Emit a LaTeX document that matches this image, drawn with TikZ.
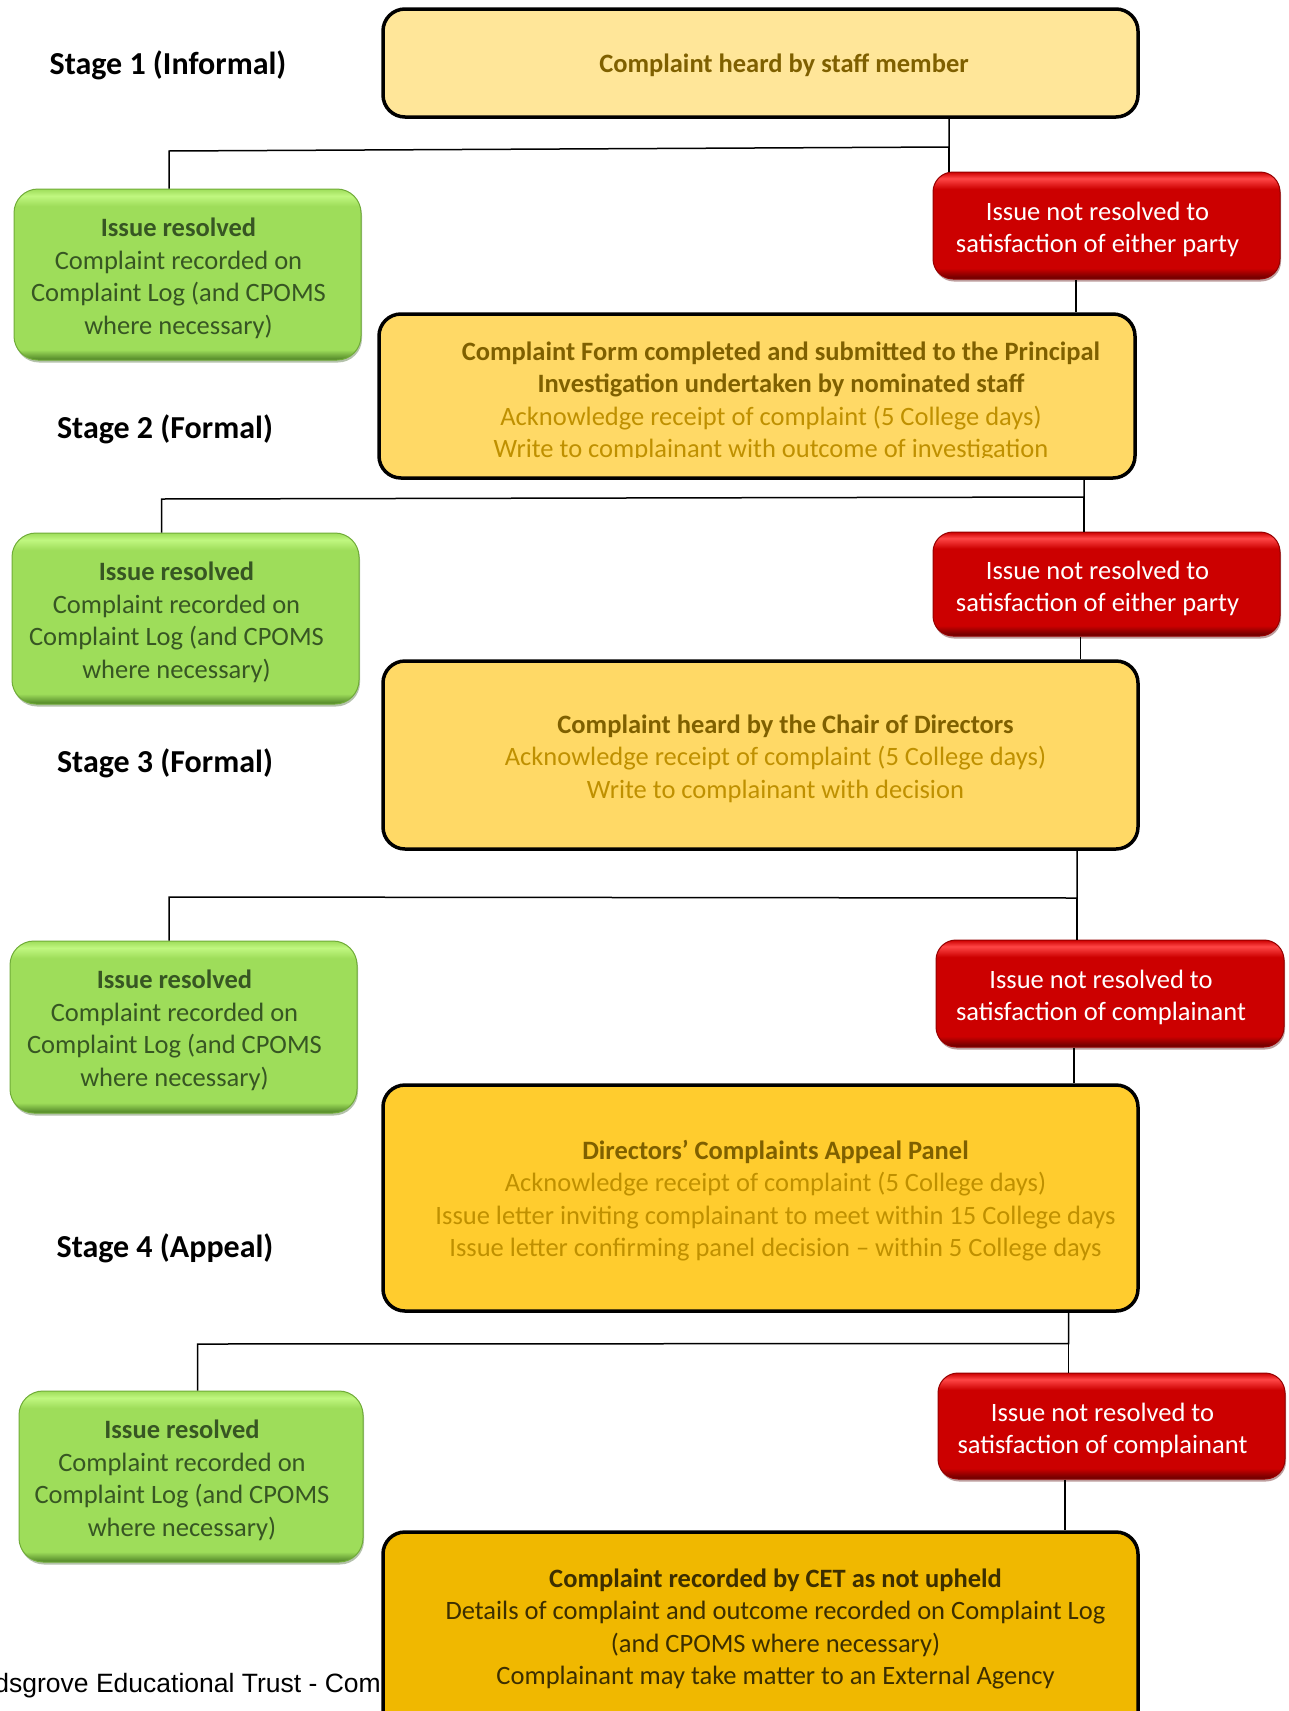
\documentclass[tikz,border=0pt]{standalone}
\usepackage{fontspec}
\usetikzlibrary{shadows}
\setmainfont{Carlito}
\newfontfamily\footfont{Liberation Sans}
\definecolor{yA}{RGB}{255,230,153}
\definecolor{yB}{RGB}{255,217,102}
\definecolor{yC}{RGB}{255,204,46}
\definecolor{yD}{RGB}{240,184,0}
\definecolor{ydark}{RGB}{127,96,0}
\definecolor{ylight}{RGB}{191,144,0}
\definecolor{ydeep}{RGB}{60,46,0}
\definecolor{gbase}{RGB}{158,221,90}
\definecolor{glt}{RGB}{192,247,128}
\definecolor{gdk}{RGB}{78,130,38}
\definecolor{gedge}{RGB}{112,172,56}
\definecolor{gtext}{RGB}{55,86,35}
\definecolor{gshadow}{RGB}{90,120,70}
\definecolor{rbase}{RGB}{204,0,0}
\definecolor{rlt}{RGB}{255,70,70}
\definecolor{rdk}{RGB}{100,0,0}
\definecolor{redge}{RGB}{150,0,0}
\definecolor{rshadow}{RGB}{110,40,40}
\pgfdeclareverticalshading{greenbev}{100bp}{color(0bp)=(gdk); color(25bp)=(gdk); color(28bp)=(gbase); color(70bp)=(gbase); color(73bp)=(glt); color(75bp)=(gbase); color(100bp)=(gbase)}
\pgfdeclareverticalshading{redbev}{100bp}{color(0bp)=(rdk); color(25bp)=(rdk); color(30bp)=(rbase); color(67bp)=(rbase); color(72bp)=(rlt); color(75bp)=(rbase); color(100bp)=(rbase)}
\newcommand\bodyfs{\fontsize{26.5}{32.5}\selectfont}
\newcommand\stagefs{\fontsize{32}{38}\selectfont\bfseries}
\tikzset{
  ybox/.style={draw=black, line width=3.5pt, rounded corners=22pt, inner sep=0pt, minimum width=755pt},
  gbox/.style={shading=greenbev, draw=gedge, line width=1pt, rounded corners=24pt, inner sep=0pt, minimum width=347pt, minimum height=171pt,
    drop shadow={shadow xshift=1pt, shadow yshift=-2.5pt, fill=gshadow, opacity=0.45}},
  rbox/.style={shading=redbev, draw=redge, line width=1pt, rounded corners=20pt, inner sep=0pt, minimum width=347pt, minimum height=106pt,
    drop shadow={shadow xshift=1pt, shadow yshift=-2.5pt, fill=rshadow, opacity=0.45}},
  btext/.style={font=\bodyfs, align=center, inner sep=0pt, yshift=-2.5pt},
  gtxt/.style={btext, text=gtext},
  rtxt/.style={btext, text=white},
  stage/.style={font=\stagefs, inner sep=0pt, yshift=-2.5pt},
  conn/.style={line width=1.5pt, draw=black}
}
\begin{document}
\begin{tikzpicture}[x=1pt, y=-1pt]
\clip (0,0) rectangle (1288,1711);
\fill[white] (0,0) rectangle (1288,1711);

% stage labels
\node[stage] (s1) at (168,63) {Stage 1 (Informal)};
\node[stage] (s2) at (165,427) {Stage 2 (Formal)};
\node[stage] (s3) at (165,761) {Stage 3 (Formal)};
\node[stage] (s4) at (165,1246) {Stage 4 (Appeal)};

% footer
\node[anchor=east, font=\footfont\fontsize{26.5}{30}\selectfont, inner sep=0pt] (foot) at (381,1686) {dsgrove Educational Trust - Com};

% Stage 1
\node[ybox, fill=yA, minimum height=108pt] (top) at (760.5,63) {};
\node[btext, text=ydark] (ttop) at (784,63) {\textbf{Complaint heard by staff member}};

\node[gbox] (g1) at (187.5,274.5) {};
\node[gtxt] (tg1) at (178.5,276) {\textbf{Issue resolved}\\Complaint recorded on\\Complaint Log (and CPOMS\\where necessary)};
\node[rbox, minimum height=107pt] (r1) at (1106.5,225.5) {};
\node[rtxt] (tr1) at (1097.5,227) {Issue not resolved to\\satisfaction of either party};

% Stage 2
\node[ybox, fill=yB, minimum width=756pt, minimum height=164pt] (b2) at (757,396) {};
\begin{scope}
\clip (379,314) rectangle (1135,457);
\node[btext] (tb2) at (771,399.5) {\hspace*{20pt}\textcolor{ydark}{\textbf{Complaint Form completed and submitted to the Principal}}\\
\hspace*{20pt}\textcolor{ydark}{\textbf{Investigation undertaken by nominated staff}}\\
\textcolor{ylight}{Acknowledge receipt of complaint (5 College days)}\\
\textcolor{ylight}{Write to complainant with outcome of investigation}};
\end{scope}

\node[gbox] (g2) at (185.5,618.5) {};
\node[gtxt] (tg2) at (176.5,620) {\textbf{Issue resolved}\\Complaint recorded on\\Complaint Log (and CPOMS\\where necessary)};
\node[rbox, minimum height=104pt] (r2) at (1106.5,584) {};
\node[rtxt] (tr2) at (1097.5,586) {Issue not resolved to\\satisfaction of either party};

% Stage 3
\node[ybox, fill=yB, minimum height=188pt] (b3) at (760.5,755) {};
\node[btext] (tb3) at (775.5,756) {\hspace*{20pt}\textcolor{ydark}{\textbf{Complaint heard by the Chair of Directors}}\\
\textcolor{ylight}{Acknowledge receipt of complaint (5 College days)}\\
\textcolor{ylight}{Write to complainant with decision}};

\node[gbox, minimum height=172pt] (g3) at (183.5,1027) {};
\node[gtxt] (tg3) at (174.5,1028) {\textbf{Issue resolved}\\Complaint recorded on\\Complaint Log (and CPOMS\\where necessary)};
\node[rbox, minimum width=348pt, minimum height=107pt] (r3) at (1110,993.5) {};
\node[rtxt] (tr3) at (1101,995) {Issue not resolved to\\satisfaction of complainant};

% Stage 4
\node[ybox, fill=yC, minimum height=226pt] (b4) at (760.5,1198) {};
\node[btext] (tb4) at (775.5,1198) {\textcolor{ydark}{\textbf{Directors’ Complaints Appeal Panel}}\\
\textcolor{ylight}{Acknowledge receipt of complaint (5 College days)}\\
\textcolor{ylight}{Issue letter inviting complainant to meet within 15 College days}\\
\textcolor{ylight}{Issue letter confirming panel decision -- within 5 College days}};

\node[gbox, minimum width=344pt] (g4) at (191,1476.5) {};
\node[gtxt] (tg4) at (182,1478) {\textbf{Issue resolved}\\Complaint recorded on\\Complaint Log (and CPOMS\\where necessary)};
\node[rbox] (r4) at (1111.5,1426) {};
\node[rtxt] (tr4) at (1102.5,1428) {Issue not resolved to\\satisfaction of complainant};

% Final
\node[ybox, fill=yD, minimum height=240pt] (b5) at (760.5,1652) {};
\node[btext, text=ydeep] (tb5) at (775.5,1626.5) {\textbf{Complaint recorded by CET as not upheld}\\
Details of complaint and outcome recorded on Complaint Log\\
(and CPOMS where necessary)\\
Complainant may take matter to an External Agency};

% connectors
\coordinate (j1) at (949,147);
\coordinate (k1) at (169,151);
\draw[conn] (top.south -| j1) -- (j1) -- (k1) -- (k1 |- g1.north);
\draw[conn] (j1) -- (j1 |- r1.north);
\coordinate (m1) at (1076,290);
\draw[conn] (m1 |- r1.south) -- (m1 |- b2.north);

\coordinate (j2) at (1084,497);
\coordinate (k2) at (161.5,499);
\draw[conn] (b2.south -| j2) -- (j2) -- (k2) -- (k2 |- g2.north);
\draw[conn] (j2) -- (j2 |- r2.north);
\coordinate (m2) at (1080.5,650);
\draw[conn] (m2 |- r2.south) -- (m2 |- b3.north);

\coordinate (j3) at (1077,898);
\coordinate (k3) at (169,897);
\draw[conn] (b3.south -| j3) -- (j3) -- (k3) -- (k3 |- g3.north);
\draw[conn] (j3) -- (j3 |- r3.north);
\coordinate (m3) at (1074,1065);
\draw[conn] (m3 |- r3.south) -- (m3 |- b4.north);

\coordinate (j4) at (1068.5,1343.5);
\coordinate (k4) at (197.5,1344);
\draw[conn] (b4.south -| j4) -- (j4) -- (k4) -- (k4 |- g4.north);
\draw[conn] (j4) -- (j4 |- r4.north);
\coordinate (m4) at (1065,1500);
\draw[conn] (m4 |- r4.south) -- (m4 |- b5.north);
\end{tikzpicture}
\end{document}
